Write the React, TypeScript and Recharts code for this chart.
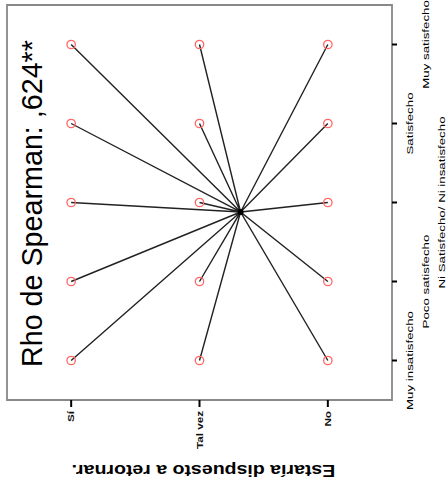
import { ScatterChart, Scatter, XAxis, YAxis, ReferenceArea, Label } from 'recharts';

const retornar = ['Sí', 'Tal vez', 'No'];
const satisfaccion = [
  'Muy insatisfecho',
  'Poco satisfecho',
  'Ni Satisfecho/ Ni insatisfecho',
  'Satisfecho',
  'Muy satisfecho',
];
// celdas de la tabla cruzada (retornar x satisfaccion)
const cellX = [1, 1, 1, 1, 1, 2, 2, 2, 2, 2, 3, 3, 3, 3, 3];
const cellY = [1, 2, 3, 4, 5, 1, 2, 3, 4, 5, 1, 2, 3, 4, 5];
const centroid = { x: 2.32, y: 2.88 };
const rhoText = 'Rho de Spearman: ,624**';
const xTitle = 'Estaría dispuesto a retornar.';

const cells = cellX.map((x, i) => ({ x, y: cellY[i] }));
// centro -> celda, centro -> celda ... para dibujar la estrella
const spokes = cells.flatMap((c) => [centroid, c]);

const font = 'Liberation Sans, Arial, sans-serif';

const XTick = ({ x, y, payload }: any) => (
  <text
    transform={`translate(${x},${y + 2}) rotate(-90) scale(1.3,1)`}
    textAnchor="end"
    dy="0.35em"
    fontSize={9}
    fontWeight="bold"
    fontFamily={font}
    fill="#111"
  >
    {retornar[payload.value - 1]}
  </text>
);

const YTick = ({ x, y, payload }: any) => {
  const i = payload.value - 1;
  const bx = x + 14 + (i % 3) * 16;
  return (
    <text
      transform={`translate(${bx},${y}) rotate(-90) scale(1.4,1)`}
      textAnchor="middle"
      fontSize={9.5}
      fontFamily={font}
      fill="#000"
    >
      {satisfaccion[i]}
    </text>
  );
};

export default function App() {
  return (
    <div style={{ position: 'absolute', left: 0, top: 0, background: '#fff' }}>
      <ScatterChart width={447} height={488} margin={{ top: 5, right: 0, bottom: 0, left: 7 }}>
        <XAxis
          type="number"
          dataKey="x"
          domain={[0.5, 3.5]}
          ticks={[1, 2, 3]}
          height={88}
          axisLine={false}
          tickSize={7}
          tickMargin={2}
          tickLine={{ stroke: '#000', strokeWidth: 2 }}
          tick={<XTick />}
        />
        <YAxis
          type="number"
          dataKey="y"
          orientation="right"
          domain={[0.5, 5.5]}
          ticks={[1, 2, 3, 4, 5]}
          width={55}
          axisLine={false}
          tickSize={5}
          tickMargin={2}
          tickLine={{ stroke: '#000', strokeWidth: 2 }}
          tick={<YTick />}
        />
        <ReferenceArea
          x1={0.5}
          x2={3.5}
          y1={0.5}
          y2={5.5}
          fill="none"
          stroke="#888"
          strokeWidth={1.8}
        >
          <Label
            content={({ viewBox }: any) => (
              <text
                transform={`translate(${viewBox.x + 35},${viewBox.y + 362}) rotate(-90)`}
                fontSize={28.7}
                fontFamily={font}
                fill="#000"
              >
                {rhoText}
              </text>
            )}
          />
          <Label
            content={({ viewBox }: any) => (
              <text
                transform={`translate(${viewBox.x + viewBox.width / 2 + 4},${viewBox.y + viewBox.height + 65}) rotate(180) scale(1.15,1)`}
                textAnchor="middle"
                fontSize={17}
                fontWeight="bold"
                fontFamily={font}
                fill="#000"
              >
                {xTitle}
              </text>
            )}
          />
        </ReferenceArea>
        <Scatter
          data={spokes}
          line={{ stroke: '#222', strokeWidth: 1.4 }}
          shape={() => <g />}
          isAnimationActive={false}
        />
        <Scatter
          data={cells}
          shape={(p: any) => (
            <circle cx={p.cx} cy={p.cy} r={4.2} fill="none" stroke="#f66" strokeWidth={1.3} />
          )}
          isAnimationActive={false}
        />
        <Scatter
          data={[centroid]}
          shape={(p: any) => <circle cx={p.cx} cy={p.cy} r={3} fill="#000" />}
          isAnimationActive={false}
        />
      </ScatterChart>
    </div>
  );
}
